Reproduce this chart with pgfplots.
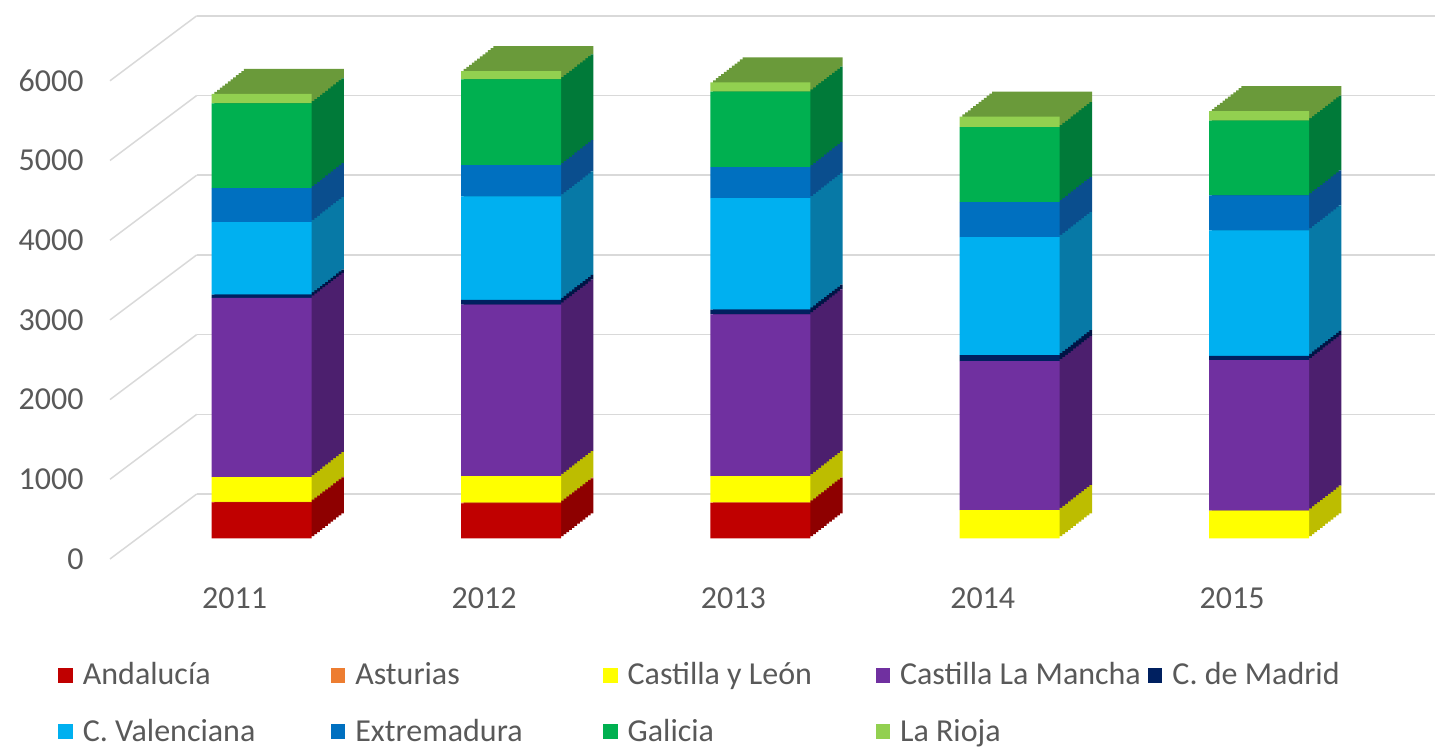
\documentclass[border=0pt]{standalone}
\usepackage{pgfplots}
\pgfplotsset{compat=1.18}
\usepackage{pgfplotstable}
\usepackage{fontspec}
\setmainfont{Carlito}
\definecolor{txt}{HTML}{595959}
\definecolor{gridc}{HTML}{D9D9D9}
\definecolor{AnF}{HTML}{C00000}\definecolor{AnS}{HTML}{8E0000}
\definecolor{AsF}{HTML}{ED7D31}\definecolor{AsS}{HTML}{B05A20}
\definecolor{CyF}{HTML}{FFFF00}\definecolor{CyS}{HTML}{BDBD00}
\definecolor{ClF}{HTML}{7030A0}\definecolor{ClS}{HTML}{4C1F6E}
\definecolor{MaF}{HTML}{002060}\definecolor{MaS}{HTML}{001445}
\definecolor{VaF}{HTML}{00B0F0}\definecolor{VaS}{HTML}{0779A6}
\definecolor{ExF}{HTML}{0070C0}\definecolor{ExS}{HTML}{0A4E8E}
\definecolor{GaF}{HTML}{00B050}\definecolor{GaS}{HTML}{007A39}
\definecolor{RiF}{HTML}{92D050}\definecolor{RiS}{HTML}{6A9A3A}

\pgfplotstableread{
x An As Cy Cl Ma Va Ex Ga Ri
0 450 8 310 2250 40 910 425 1065 117
1 439 8 334 2151 58 1299 392 1078 104
2 442 8 330 2030 58 1400 388 947 117
3 0 0 355 1867 75 1483 439 940 133
4 0 0 347 1887 55 1574 439 940 118
}\data

\newcommand\stackplots[1]{%
 \addplot[fill=An#1] table[x=x,y=An]{\data};
 \addplot[fill=As#1] table[x=x,y=As]{\data};
 \addplot[fill=Cy#1] table[x=x,y=Cy]{\data};
 \addplot[fill=Cl#1] table[x=x,y=Cl]{\data};
 \addplot[fill=Ma#1] table[x=x,y=Ma]{\data};
 \addplot[fill=Va#1] table[x=x,y=Va]{\data};
 \addplot[fill=Ex#1] table[x=x,y=Ex]{\data};
 \addplot[fill=Ga#1] table[x=x,y=Ga]{\data};
 \addplot[fill=Ri#1] table[x=x,y=Ri]{\data};
}
\pgfplotsset{
 barbase/.style={scale only axis, width=623.375pt, height=239.1pt,
   xmin=-0.5, xmax=4.5, ymin=0, ymax=6000, hide axis, clip=false,
   ybar stacked, bar width=50pt, anchor=south west,
   every axis plot/.append style={draw=none}},
 sqlegend/.style={legend image code/.code={\fill[##1] (0pt,-3.6pt) rectangle (7.2pt,3.6pt);}},
}
\newcommand\lt[1]{\makebox[124pt][l]{#1}}
\begin{document}
\begin{tikzpicture}
\useasboundingbox (0,0) rectangle (717.5pt,374.5pt);
% side-wall diagonals
\foreach \v in {0,...,6}{
  \draw[gridc, line width=0.75pt] (55pt,{95pt+\v*39.85pt}) -- (98.35pt,{127.5pt+\v*39.85pt});
}
% back wall
\begin{axis}[scale only axis, width=619.15pt, height=239.1pt, at={(98.35pt,127.5pt)}, anchor=south west,
  xmin=0, xmax=1, ymin=0, ymax=6000, axis line style={draw=none}, xtick=\empty,
  ytick={0,1000,...,6000}, yticklabels={}, major tick length=0pt, ymajorgrids,
  grid style={gridc, line width=0.75pt}]
\addplot[draw=none] coordinates {(0,0)};
\end{axis}
% depth copies
\foreach \k in {12,11,...,1}{
\begin{axis}[barbase, at={({68.5pt+\k*16.15pt/12},{105.35pt+\k*12.5pt/12})}]
\stackplots{S}
\end{axis}
}
% front faces
\begin{axis}[barbase, at={(68.5pt,105.35pt)},
  every axis plot post/.append style={sqlegend},
  legend style={draw=none, fill=none, font=\fontsize{16}{19}\selectfont, text=txt,
    legend columns=5, column sep=0pt, row sep=15.5pt, nodes={inner sep=0pt},
    /tikz/every odd column/.append style={column sep=5pt},
    at={(-0.0681,-0.251)}, anchor=north west},
  legend cell align=left]
\stackplots{F}
\legend{\lt{Andalucía},\lt{Asturias},\lt{Castilla y León},\lt{Castilla La Mancha},\lt{C. de Madrid},
 \lt{C. Valenciana},\lt{Extremadura},\lt{Galicia},\lt{La Rioja}}
\end{axis}
% labels
\begin{axis}[scale only axis, width=623.375pt, height=239.1pt, at={(55pt,95pt)}, anchor=south west,
  xmin=-0.5, xmax=4.5, ymin=0, ymax=6000, axis line style={draw=none}, major tick length=0pt,
  xtick={0,1,2,3,4}, xticklabels={2011,2012,2013,2014,2015},
  ytick={0,1000,...,6000}, yticklabels={0,1000,2000,3000,4000,5000,6000},
  /pgf/number format/assume math mode=true,
  tick label style={font=\fontsize{16}{19}\selectfont, text=txt, inner sep=0pt},
  xticklabel style={anchor=north, yshift=-14.2pt},
  yticklabel style={anchor=east, xshift=-13pt}]
\addplot[draw=none] coordinates {(0,0)};
\end{axis}
\end{tikzpicture}
\end{document}
